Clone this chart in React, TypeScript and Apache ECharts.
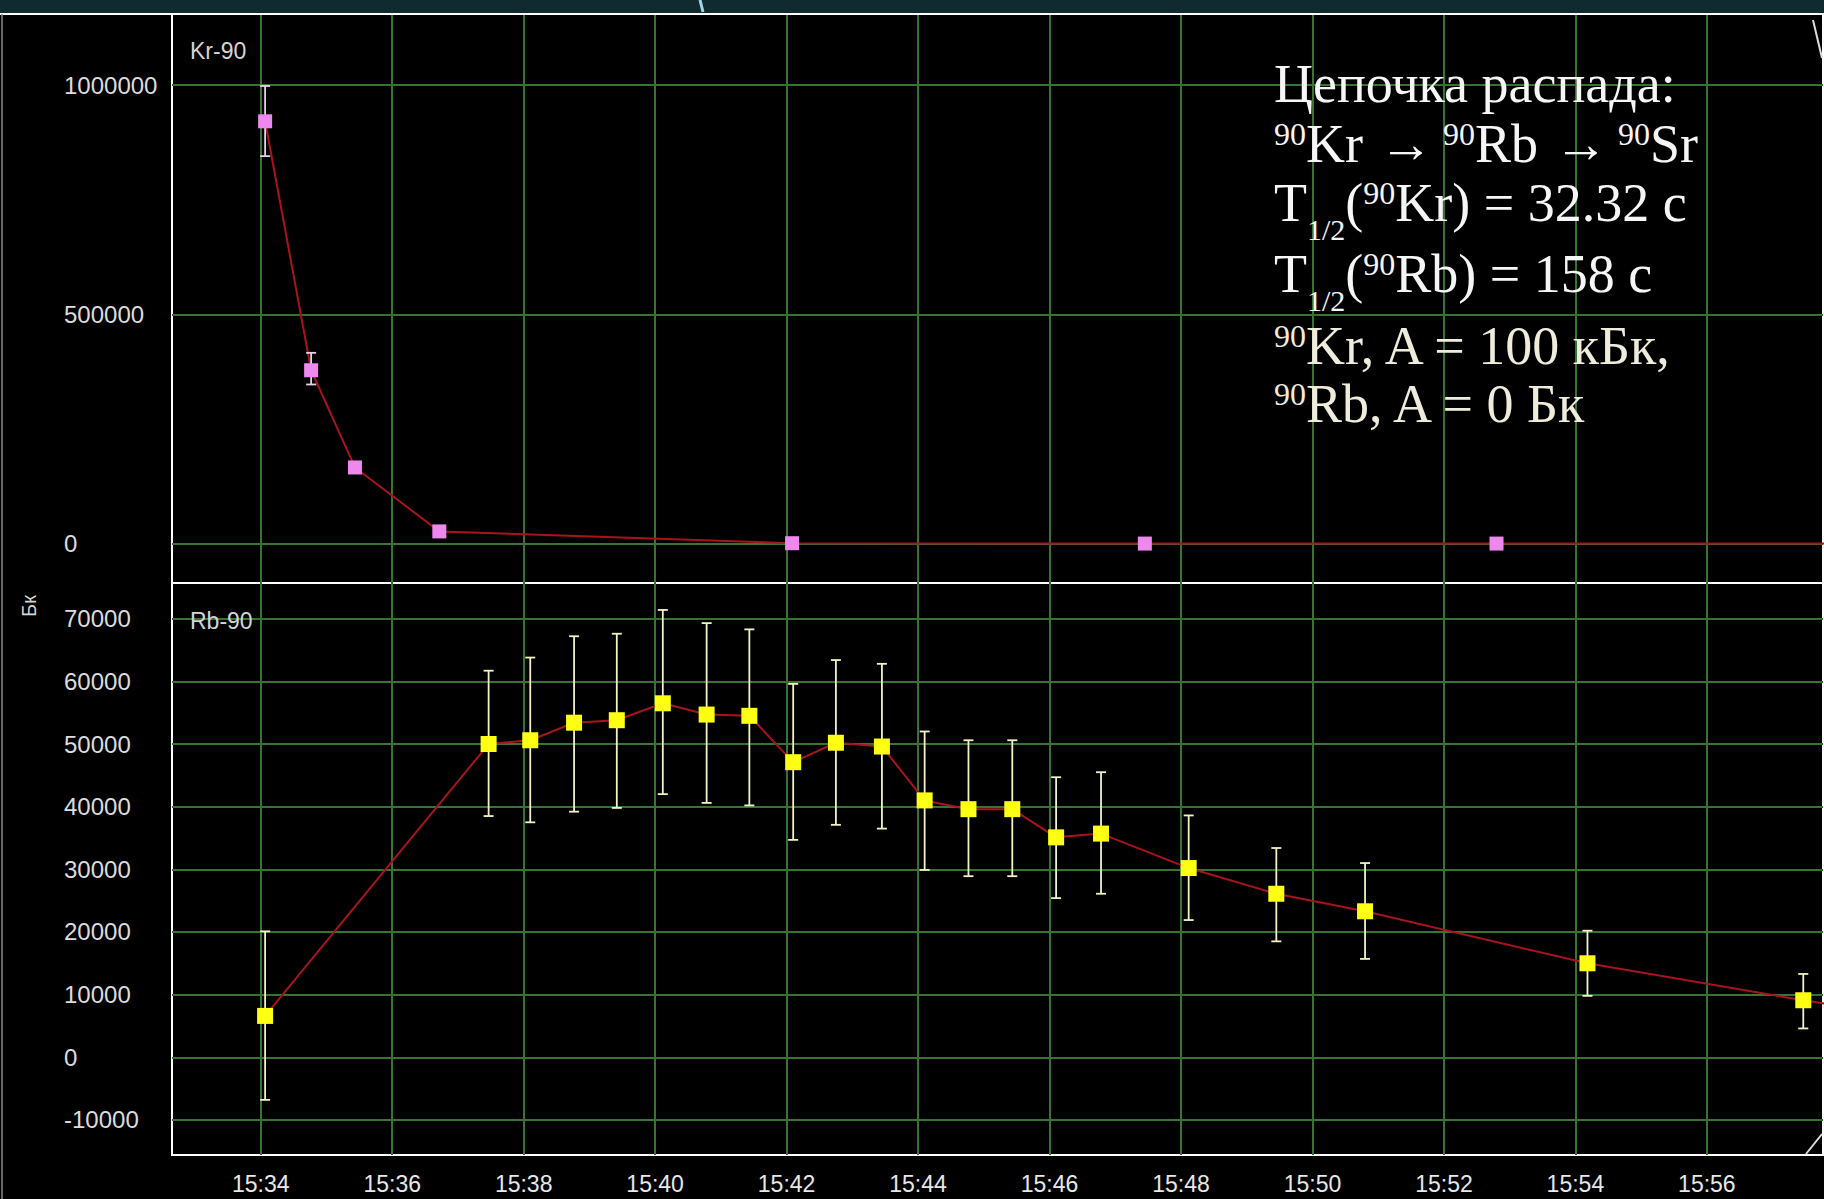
import React, { useEffect, useRef } from "react";
import * as echarts from "echarts";

// ---- Data ----
// Kr-90 activity, Бк
const krTimes = ["15:34:04", "15:34:46", "15:35:26", "15:36:43", "15:42:05", "15:47:27", "15:52:48", "15:58:10"];
const krValues = [921000, 378000, 166000, 26500, 800, 0, 0, 0];
const krLow = [845000, 347000, 157000, 23500, 0, -1000, -1000, -1000];
const krHigh = [998000, 416000, 175000, 29500, 1600, 1000, 1000, 1000];

// Rb-90 activity, Бк
const rbTimes = [
  "15:34:04", "15:37:28", "15:38:06", "15:38:46", "15:39:25", "15:40:07", "15:40:47", "15:41:26",
  "15:42:06", "15:42:45", "15:43:27", "15:44:06", "15:44:46", "15:45:26", "15:46:06", "15:46:47",
  "15:48:07", "15:49:27", "15:50:48", "15:54:11", "15:57:28", "15:58:50",
];
const rbValues = [6600, 50000, 50600, 53400, 53800, 56500, 54700, 54500, 47100, 50200, 49600, 41000, 39600, 39600, 35100, 35700, 30200, 26100, 23300, 15000, 9100, 6800];
const rbLow = [-6800, 38500, 37500, 39200, 39800, 42000, 40600, 40200, 34700, 37100, 36500, 29900, 28900, 28900, 25400, 26100, 21900, 18500, 15700, 9800, 4600, 6800];
const rbHigh = [20100, 61700, 63800, 67200, 67600, 71400, 69300, 68300, 59600, 63400, 62800, 52000, 50600, 50600, 44700, 45500, 38600, 33400, 31000, 20200, 13300, 6800];

// Tick labels
const xTickLabels = ["15:34", "15:36", "15:38", "15:40", "15:42", "15:44", "15:46", "15:48", "15:50", "15:52", "15:54", "15:56"];
const krTicks = [0, 500000, 1000000];
const rbTicks = [-10000, 0, 10000, 20000, 30000, 40000, 50000, 60000, 70000];

// Axis ranges
const xMinLabel = "15:32:39";
const xMaxLabel = "15:57:46";
const krMin = -86000;
const krMax = 1155000;
const rbMin = -15600;
const rbMax = 75700;

// ---- Helpers ----
const toSec = (t: string) => {
  const p = t.split(":").map(Number);
  return p[0] * 3600 + p[1] * 60 + (p[2] || 0);
};
const fmt = (v: number) => {
  const h = Math.floor(v / 3600);
  const m = Math.round((v - h * 3600) / 60);
  return `${h}:${m < 10 ? "0" + m : m}`;
};

const GREEN = "#377432";
const RED = "#a8141c";
const LABEL_FONT = "Liberation Sans";

const errRender = (color: string) => (params: any, api: any) => {
  const lo = api.coord([api.value(0), api.value(1)]);
  const hi = api.coord([api.value(0), api.value(2)]);
  const cw = 5;
  const style = { stroke: color, lineWidth: 1.8 };
  return {
    type: "group",
    children: [
      { type: "line", shape: { x1: lo[0], y1: lo[1], x2: hi[0], y2: hi[1] }, style },
      { type: "line", shape: { x1: lo[0] - cw, y1: lo[1], x2: lo[0] + cw, y2: lo[1] }, style },
      { type: "line", shape: { x1: hi[0] - cw, y1: hi[1], x2: hi[0] + cw, y2: hi[1] }, style },
    ],
  };
};

export default function App() {
  const ref = useRef<HTMLDivElement>(null);

  useEffect(() => {
    if (!ref.current) return;
    const chart = echarts.init(ref.current, null, { renderer: "svg" });

    const xTicks = xTickLabels.map((t) => toSec(t));
    const krData = krTimes.map((t, i) => [toSec(t), krValues[i]]);
    const krErr = krTimes.map((t, i) => [toSec(t), krLow[i], krHigh[i]]);
    const rbData = rbTimes.map((t, i) => [toSec(t), rbValues[i]]);
    const rbErr = rbTimes.map((t, i) => [toSec(t), rbLow[i], rbHigh[i]]);

    const xBase = (gridIndex: number, showLabels: boolean) => ({
      type: "value",
      gridIndex,
      min: toSec(xMinLabel),
      max: toSec(xMaxLabel),
      axisLine: { show: false },
      axisTick: { show: false, customValues: xTicks },
      axisLabel: {
        show: showLabels,
        customValues: xTicks,
        formatter: (v: number) => fmt(v),
        color: "#e8e8e8",
        fontFamily: LABEL_FONT,
        fontSize: 23,
        margin: 17,
      },
      splitLine: { show: true, lineStyle: { color: GREEN, width: 2 } },
    });

    const yBase = (gridIndex: number, min: number, max: number, ticks: number[]) => ({
      type: "value",
      gridIndex,
      min,
      max,
      axisLine: { show: false },
      axisTick: { show: false, customValues: ticks },
      axisLabel: {
        show: true,
        customValues: ticks,
        align: "left",
        margin: 108,
        color: "#dcdcdc",
        fontFamily: LABEL_FONT,
        fontSize: 24,
        formatter: (v: number) => String(v),
      },
      splitLine: { show: true, lineStyle: { color: GREEN, width: 2 } },
    });

    const mainFont = "Liberation Serif";
    const W = "#f6f6f6";
    const C = "#f0ecdc";
    const rich = {
      m: { fontFamily: mainFont, fontSize: 54, lineHeight: 64, verticalAlign: "middle", fill: W },
      a: { fontFamily: mainFont, fontSize: 54, lineHeight: 64, verticalAlign: "middle", padding: [0, 10, 0, 16], fill: W },
      s: { fontFamily: mainFont, fontSize: 32, lineHeight: 64, verticalAlign: "middle", padding: [0, 0, 21, 0], fill: W },
      b: { fontFamily: mainFont, fontSize: 30, lineHeight: 64, verticalAlign: "middle", padding: [53, 0, 0, 0], fill: W },
      m2: { fontFamily: mainFont, fontSize: 54, lineHeight: 64, verticalAlign: "middle", fill: C },
      s2: { fontFamily: mainFont, fontSize: 32, lineHeight: 64, verticalAlign: "middle", padding: [0, 0, 21, 0], fill: C },
    };
    const noteLines: [string, number][] = [
      ["{m|Цепочка распада:}", 84],
      ["{s|90}{m|Kr}{a|→}{s|90}{m|Rb}{a|→}{s|90}{m|Sr}", 144],
      ["{m|T}{b|1/2}{m|(}{s|90}{m|Kr) = 32.32 с}", 203],
      ["{m|T}{b|1/2}{m|(}{s|90}{m|Rb) = 158 с}", 274],
      ["{s2|90}{m2|Kr, A = 100 кБк,}", 346],
      ["{s2|90}{m2|Rb, A = 0 Бк}", 404],
    ];

    const option: any = {
      animation: false,
      backgroundColor: "#000",
      grid: [
        { left: 172, top: 14, width: 1651, height: 569, show: true, borderColor: "#ffffff", borderWidth: 2, backgroundColor: "#000", containLabel: false, outerBoundsMode: "none" },
        { left: 172, top: 583, width: 1651, height: 572, show: true, borderColor: "#ffffff", borderWidth: 2, backgroundColor: "#000", containLabel: false, outerBoundsMode: "none" },
      ],
      xAxis: [xBase(0, false), xBase(1, true)],
      yAxis: [yBase(0, krMin, krMax, krTicks), yBase(1, rbMin, rbMax, rbTicks)],
      series: [
        { type: "line", xAxisIndex: 0, yAxisIndex: 0, data: krData, symbol: "none", lineStyle: { color: RED, width: 2 }, z: 3, clip: true },
        { type: "custom", xAxisIndex: 0, yAxisIndex: 0, data: krErr, encode: { x: 0, y: [1, 2] }, renderItem: errRender("#e8d2e8"), z: 4, clip: true },
        { type: "scatter", xAxisIndex: 0, yAxisIndex: 0, data: krData, symbol: "rect", symbolSize: 14, itemStyle: { color: "#ee88ee", opacity: 1 }, z: 5, clip: true },
        { type: "line", xAxisIndex: 1, yAxisIndex: 1, data: rbData, symbol: "none", lineStyle: { color: RED, width: 2 }, z: 3, clip: true },
        { type: "custom", xAxisIndex: 1, yAxisIndex: 1, data: rbErr, encode: { x: 0, y: [1, 2] }, renderItem: errRender("#f2f2c4"), z: 4, clip: true },
        { type: "scatter", xAxisIndex: 1, yAxisIndex: 1, data: rbData, symbol: "rect", symbolSize: 16, itemStyle: { color: "#ffff14", opacity: 1 }, z: 5, clip: true },
      ],
      graphic: [
        { type: "rect", z: 100, shape: { x: 0, y: 0, width: 1824, height: 13 }, style: { fill: "#0f2b30" } },
        { type: "line", z: 101, shape: { x1: 700, y1: 0, x2: 703, y2: 12 }, style: { stroke: "#9fd6e8", lineWidth: 3 } },
        { type: "line", z: 101, shape: { x1: 0, y1: 14, x2: 1824, y2: 14 }, style: { stroke: "#ffffff", lineWidth: 2 } },
        { type: "line", z: 101, shape: { x1: 2, y1: 14, x2: 2, y2: 1199 }, style: { stroke: "#8a8a8a", lineWidth: 1.5 } },
        { type: "line", z: 101, shape: { x1: 1813, y1: 20, x2: 1822, y2: 58 }, style: { stroke: "#dddddd", lineWidth: 2 } },
        { type: "line", z: 101, shape: { x1: 1806, y1: 1154, x2: 1822, y2: 1134 }, style: { stroke: "#dddddd", lineWidth: 2 } },
        { type: "text", z: 101, x: 190, y: 51, style: { text: "Kr-90", fontFamily: LABEL_FONT, fontSize: 23, fill: "#d4d4d4", align: "left", verticalAlign: "middle" } },
        { type: "text", z: 101, x: 190, y: 621, style: { text: "Rb-90", fontFamily: LABEL_FONT, fontSize: 23, fill: "#d4d4d4", align: "left", verticalAlign: "middle" } },
        { type: "text", z: 101, x: 29, y: 606, rotation: Math.PI / 2, style: { text: "Бк", fontFamily: LABEL_FONT, fontSize: 20, fill: "#d4d4d4", align: "center", verticalAlign: "middle" } },
        ...noteLines.map(([text, y]) => ({
          type: "text",
          z: 102,
          x: 1274,
          y,
          style: { text, rich, fontFamily: mainFont, fontSize: 54, fill: W, align: "left", verticalAlign: "middle" },
        })),
      ],
    };

    chart.setOption(option);
    return () => chart.dispose();
  }, []);

  return (
    <div
      ref={ref}
      style={{ position: "fixed", left: 0, top: 0, width: 1824, height: 1199, background: "#000" }}
    />
  );
}
